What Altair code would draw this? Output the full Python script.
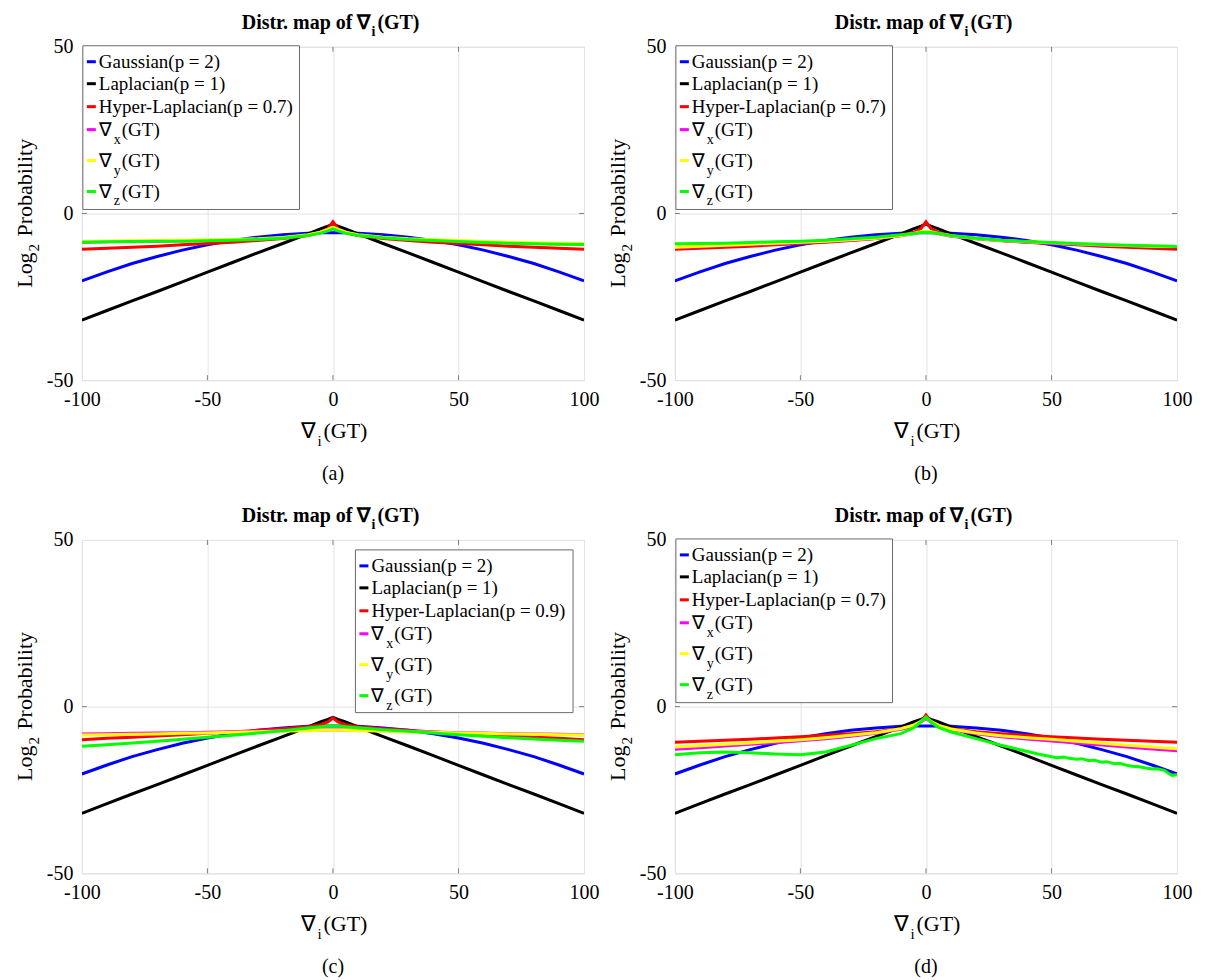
import altair as alt
import pandas as pd

# ---------------- data ----------------
X = [-100, -90, -80, -70, -60, -50, -40, -30, -20, -10, -5, -2, 0, 2, 5, 10, 20, 30, 40, 50, 60, 70, 80, 90, 100]

GAUSS = [-20.2, -17.5, -15.0, -12.9, -11.0, -9.4, -8.1, -7.1, -6.4, -5.9, -5.8, -5.8, -5.8,
         -5.8, -5.8, -5.9, -6.4, -7.1, -8.1, -9.4, -11.0, -12.9, -15.0, -17.5, -20.2]
LAPLACE = [-32.0, -29.1, -26.2, -23.4, -20.5, -17.6, -14.7, -11.8, -9.0, -6.1, -4.6, -3.8, -3.2,
           -3.8, -4.6, -6.1, -9.0, -11.8, -14.7, -17.6, -20.5, -23.4, -26.2, -29.1, -32.0]
HYPER07 = [-10.7, -10.4, -10.1, -9.8, -9.4, -9.0, -8.6, -8.1, -7.5, -6.6, -5.7, -4.5, -2.5,
           -4.5, -5.7, -6.6, -7.5, -8.1, -8.6, -9.0, -9.4, -9.8, -10.1, -10.4, -10.7]
HYPER09 = [-9.9, -9.5, -9.2, -8.8, -8.4, -8.0, -7.6, -7.1, -6.6, -6.0, -5.4, -4.6, -3.4,
           -4.6, -5.4, -6.0, -6.6, -7.1, -7.6, -8.0, -8.4, -8.8, -9.2, -9.5, -9.9]

# panel (a) empirical
A_X = [-8.6, -8.5, -8.4, -8.3, -8.2, -8.1, -7.9, -7.7, -7.3, -6.5, -5.7, -4.9, -4.3,
       -4.9, -5.7, -6.5, -7.2, -7.7, -8.0, -8.3, -8.6, -8.8, -9.0, -9.1, -9.2]
A_Y = [-8.4, -8.3, -8.2, -8.1, -8.0, -7.9, -7.8, -7.6, -7.2, -6.4, -5.6, -4.8, -4.1,
       -4.8, -5.6, -6.4, -7.1, -7.6, -7.9, -8.1, -8.4, -8.6, -8.8, -8.9, -9.0]
A_Z = [-8.6, -8.5, -8.4, -8.3, -8.3, -8.2, -8.0, -7.8, -7.4, -6.6, -5.9, -5.2, -4.6,
       -5.2, -5.9, -6.6, -7.3, -7.8, -8.1, -8.4, -8.7, -8.9, -9.1, -9.2, -9.3]

# panel (b) empirical
B_X = [-10.3, -10.0, -9.7, -9.4, -9.1, -8.8, -8.4, -8.0, -7.5, -6.7, -6.1, -5.6, -5.4,
       -5.6, -6.1, -6.8, -7.6, -8.2, -8.6, -8.9, -9.2, -9.5, -9.7, -9.9, -10.0]
B_Y = [-10.1, -9.8, -9.5, -9.2, -8.9, -8.6, -8.3, -7.9, -7.4, -6.6, -6.0, -5.5, -5.3,
       -5.5, -6.0, -6.7, -7.5, -8.1, -8.5, -8.8, -9.1, -9.4, -9.6, -9.8, -9.9]
B_Z = [-9.1, -9.0, -8.9, -8.7, -8.5, -8.3, -8.0, -7.6, -7.1, -6.4, -6.0, -5.7, -5.6,
       -5.7, -6.0, -6.6, -7.4, -8.0, -8.4, -8.7, -9.0, -9.3, -9.5, -9.7, -9.9]

# panel (c) empirical
C_X = [-8.2, -8.1, -8.0, -7.9, -7.8, -7.7, -7.5, -7.4, -7.2, -7.1, -7.0, -7.0, -7.0,
       -7.0, -7.0, -7.1, -7.2, -7.4, -7.6, -7.8, -7.9, -8.1, -8.2, -8.3, -8.4]
C_Y = [-8.5, -8.4, -8.3, -8.2, -8.0, -7.9, -7.7, -7.5, -7.3, -7.2, -7.1, -7.1, -7.1,
       -7.1, -7.1, -7.2, -7.3, -7.5, -7.7, -7.9, -8.0, -8.2, -8.3, -8.4, -8.5]
C_Z = [-11.9, -11.4, -10.9, -10.4, -9.8, -9.2, -8.6, -7.9, -7.2, -6.4, -6.0, -5.8, -5.7,
       -5.8, -6.0, -6.3, -6.9, -7.4, -7.9, -8.4, -8.9, -9.3, -9.7, -10.1, -10.4]

# panel (d) empirical
D_X = [-12.8, -12.3, -11.8, -11.3, -10.8, -10.2, -9.6, -8.9, -8.0, -6.8, -5.8, -4.6, -3.6,
       -4.6, -5.8, -6.9, -8.1, -9.0, -9.7, -10.3, -10.9, -11.5, -12.1, -12.7, -13.2]
D_Y = [-12.1, -11.7, -11.3, -10.9, -10.4, -9.9, -9.3, -8.6, -7.8, -6.6, -5.6, -4.4, -3.4,
       -4.4, -5.6, -6.7, -7.9, -8.7, -9.3, -9.8, -10.4, -11.0, -11.6, -12.1, -12.6]
D_ZX = [-100, -90, -80, -70, -60, -50, -40, -30, -20, -10, -5, -2, 0, 2, 5, 10, 20, 30, 40, 45,
        50, 52, 55, 57, 60, 62, 65, 67, 70, 72, 75, 77, 80, 82, 85, 87, 90, 92, 95, 97, 98, 100]
D_Z = [-14.4, -13.8, -13.6, -13.8, -14.2, -14.4, -13.6, -11.6, -9.6, -8.1, -6.4, -4.6, -3.1,
       -4.6, -6.2, -7.6, -9.6, -11.6, -13.4, -14.3, -15.0, -15.3, -15.1, -15.5, -15.8, -15.6,
       -16.2, -16.0, -16.7, -16.5, -17.1, -17.0, -17.6, -17.9, -18.0, -18.3, -18.7, -18.6,
       -19.1, -20.2, -20.6, -20.4]

X_TICKS = [-100, -50, 0, 50, 100]
Y_TICKS = [-50, 0, 50]

KEYS = ["a_g", "b_l", "c_h", "d_x", "e_y", "f_z"]
COLORS = ["#0000ff", "#000000", "#ff0000", "#ff00ff", "#ffff00", "#00ff00"]
WIDTHS = [3, 3, 3, 2.5, 2.5, 2.5]

# ---------------- style / layout ----------------
W, H = 503, 334
SERIF = "Liberation Serif"
FRAME = "#808080"
GRID = "#e3e3e3"


def txt(t, x, y, size=20, bold=False, align="left", baseline="alphabetic", angle=0):
    kw = dict(font=SERIF, fontSize=size, align=align, baseline=baseline, color="black")
    if bold:
        kw["fontWeight"] = "bold"
    if angle:
        kw["angle"] = angle
    return alt.Chart(pd.DataFrame({"t": [t]})).mark_text(**kw).encode(
        text="t:N", x=alt.value(x), y=alt.value(y))


def panel(tag, hyp_label, hyp, ex, ey, ez, zx, box):
    rows = []
    for key, xs, ys in [("a_g", X, GAUSS), ("b_l", X, LAPLACE), ("c_h", X, hyp),
                        ("d_x", X, ex), ("e_y", X, ey), ("f_z", zx, ez)]:
        for xv, yv in zip(xs, ys):
            rows.append({"x": xv, "y": yv, "s": key})
    df = pd.DataFrame(rows)

    xax = alt.Axis(values=X_TICKS, grid=True, gridColor=GRID, domain=False, ticks=False,
                   labelFont=SERIF, labelFontSize=20, labelColor="black", labelPadding=9,
                   labelFlush=False, title=None, labelExpr="'' + datum.value")
    yax = alt.Axis(values=Y_TICKS, grid=True, gridColor=GRID, domain=False, ticks=False,
                   labelFont=SERIF, labelFontSize=20, labelColor="black", labelPadding=9,
                   labelFlush=False, title=None, labelExpr="'' + datum.value")

    lines = alt.Chart(df).mark_line(clip=True, strokeCap="butt").encode(
        x=alt.X("x:Q", scale=alt.Scale(domain=[-100, 100], nice=False, zero=False), axis=xax),
        y=alt.Y("y:Q", scale=alt.Scale(domain=[-50, 50], nice=False, zero=False), axis=yax),
        color=alt.Color("s:N", scale=alt.Scale(domain=KEYS, range=COLORS), legend=None),
        strokeWidth=alt.StrokeWidth("s:N", scale=alt.Scale(domain=KEYS, range=WIDTHS), legend=None),
        detail="s:N",
    )

    # inward tick marks (MATLAB style)
    tdf = pd.DataFrame({"v": X_TICKS[1:-1]})
    xt_bot = alt.Chart(tdf).mark_rule(color=FRAME).encode(
        x="v:Q", y=alt.value(H), y2=alt.value(H - 5))
    xt_top = alt.Chart(tdf).mark_rule(color=FRAME).encode(
        x="v:Q", y=alt.value(0), y2=alt.value(5))
    ydf = pd.DataFrame({"v": [0]})
    yt_l = alt.Chart(ydf).mark_rule(color=FRAME).encode(
        y="v:Q", x=alt.value(0), x2=alt.value(5))
    yt_r = alt.Chart(ydf).mark_rule(color=FRAME).encode(
        y="v:Q", x=alt.value(W), x2=alt.value(W - 5))

    # legend
    bx0, by0, bx1, by1 = box
    offs = [16, 38, 61, 84, 115, 146]
    labels = ["Gaussian(p = 2)", "Laplacian(p = 1)", hyp_label, "∇", "∇", "∇"]
    subs = ["", "", "", "x", "y", "z"]
    rests = ["", "", "", "(GT)", "(GT)", "(GT)"]
    ldf = pd.DataFrame({
        "ry": [by0 + o for o in offs],
        "sy": [by0 + o + 10 for o in offs],
        "lab": labels, "sub": subs, "rest": rests, "c": COLORS,
    })
    lbox = alt.Chart(pd.DataFrame({"a": [0]})).mark_rect(
        fill="white", stroke="#6a6a6a", strokeWidth=1).encode(
        x=alt.value(bx0), x2=alt.value(bx1), y=alt.value(by0), y2=alt.value(by1))
    sw = alt.Chart(ldf).mark_rule(strokeWidth=3).encode(
        x=alt.value(bx0 + 4), x2=alt.value(bx0 + 13),
        y=alt.Y("ry:Q", scale=None), color=alt.Color("c:N", scale=None))
    tmain = alt.Chart(ldf).mark_text(font=SERIF, fontSize=19, align="left", baseline="middle",
                                     color="black").encode(
        x=alt.value(bx0 + 16), y=alt.Y("ry:Q", scale=None), text="lab:N")
    tsub = alt.Chart(ldf).mark_text(font=SERIF, fontSize=14, align="left", baseline="middle",
                                    color="black").encode(
        x=alt.value(bx0 + 31), y=alt.Y("sy:Q", scale=None), text="sub:N")
    trest = alt.Chart(ldf).mark_text(font=SERIF, fontSize=19, align="left", baseline="middle",
                                     color="black").encode(
        x=alt.value(bx0 + 39), y=alt.Y("ry:Q", scale=None), text="rest:N")

    # title, axis titles, caption
    xi = 290
    title = (txt("Distr. map of ∇", xi - 1, -18, size=20, bold=True, align="right")
             + txt("i", xi, -11, size=14, bold=True)
             + txt("(GT)", xi + 6, -18, size=20, bold=True))
    xs_ = 236
    xtitle = (txt("∇", xs_ - 1, 392, size=22, align="right")
              + txt("i", xs_, 400, size=15)
              + txt("(GT)", xs_ + 6, 392, size=22))
    ys_ = 206
    ytitle = (txt("Log", -50, ys_, size=22, align="right", angle=270)
              + txt("2", -43, ys_ - 1, size=15, align="left", angle=270)
              + txt("Probability", -50, ys_ - 16, size=22, align="left", angle=270))
    caption = txt("(" + tag + ")", W / 2, 434, size=20, align="center")

    return alt.layer(lines, xt_bot, xt_top, yt_l, yt_r, lbox, sw, tmain, tsub, trest,
                     title, xtitle, ytitle, caption).properties(width=W, height=H)


NW = (1, -1, 218, 163)
NE = (274, 10, 492, 173)

pa = panel("a", "Hyper-Laplacian(p = 0.7)", HYPER07, A_X, A_Y, A_Z, X, NW)
pb = panel("b", "Hyper-Laplacian(p = 0.7)", HYPER07, B_X, B_Y, B_Z, X, NW)
pc = panel("c", "Hyper-Laplacian(p = 0.9)", HYPER09, C_X, C_Y, C_Z, X, NE)
pd_ = panel("d", "Hyper-Laplacian(p = 0.7)", HYPER07, D_X, D_Y, D_Z, D_ZX, NW)

chart = alt.concat(pa, pb, pc, pd_, columns=2, spacing={"row": 160, "column": 91},
                   bounds="flush").configure_view(
    stroke=FRAME, strokeWidth=1).configure(
    background="white", padding={"left": 5, "top": 3, "right": 5, "bottom": 5})

chart.save("out.html", embed_options={"renderer": "svg", "actions": False})
